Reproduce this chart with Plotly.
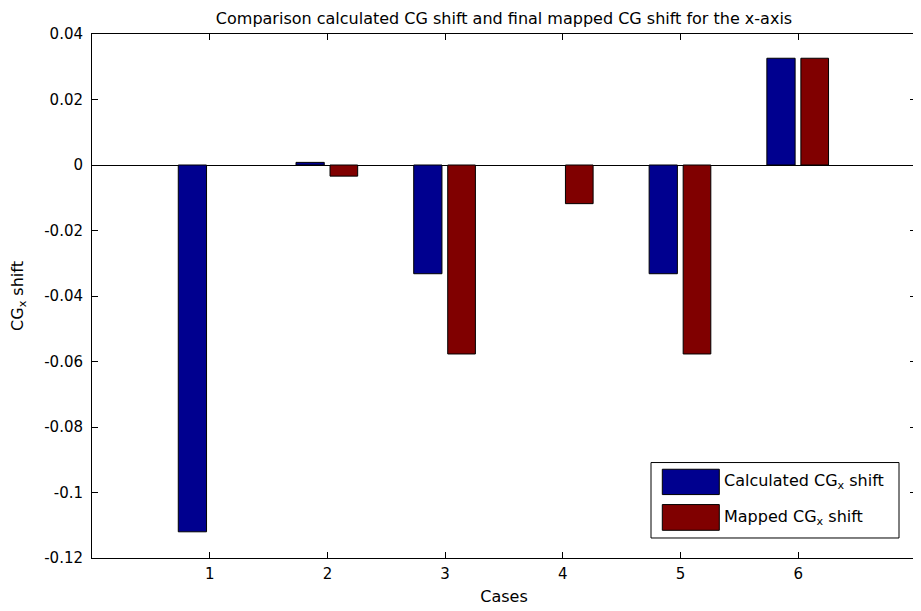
import plotly.graph_objects as go

cases = [1, 2, 3, 4, 5, 6]
calculated = [-0.112, 0.0008, -0.0332, None, -0.0332, 0.0326]
mapped = [None, -0.0034, -0.0577, -0.0118, -0.0577, 0.0326]
y_ticks = [-0.12, -0.10, -0.08, -0.06, -0.04, -0.02, 0, 0.02, 0.04]
y_labels = ["-0.12", "-0.1", "-0.08", "-0.06", "-0.04", "-0.02", "0", "0.02", "0.04"]
names = ["Calculated CG<sub>x</sub> shift", "Mapped CG<sub>x</sub> shift"]
colors = ["#00008F", "#800000"]

FONT = "DejaVu Sans, Liberation Sans, Arial, sans-serif"

# page body adds an 8px margin, so the figure is sized to fit the window
W, H = 913, 603
L, T, R, B = 84, 26, 5, 53

fig = go.Figure()
fig.add_trace(go.Bar(x=cases, y=calculated, name=names[0], width=0.24, offset=-0.267,
                     marker=dict(color=colors[0], line=dict(color="black", width=1)),
                     showlegend=False))
fig.add_trace(go.Bar(x=cases, y=mapped, name=names[1], width=0.235, offset=0.022,
                     marker=dict(color=colors[1], line=dict(color="black", width=1)),
                     showlegend=False))

# legend drawn as a box like the original (positions given in window pixels)
def px(x):
    return (x - 92) / 824
def py(y):
    return (557.7 - y) / 523.7

shapes = [
    dict(type="rect", xref="paper", yref="paper", x0=px(651), x1=px(899), y0=py(537.7), y1=py(462.3),
         line=dict(color="black", width=1), fillcolor="white"),
    dict(type="rect", xref="paper", yref="paper", x0=px(662.3), x1=px(719.3), y0=py(494.3), y1=py(469),
         line=dict(color="black", width=1), fillcolor=colors[0]),
    dict(type="rect", xref="paper", yref="paper", x0=px(662.3), x1=px(719.3), y0=py(530), y1=py(504.3),
         line=dict(color="black", width=1), fillcolor=colors[1]),
]
annotations = [
    dict(xref="paper", yref="paper", x=px(722), y=py(481.5), text=names[0], showarrow=False,
         xanchor="left", yanchor="middle", font=dict(family=FONT, size=16, color="black")),
    dict(xref="paper", yref="paper", x=px(722), y=py(517), text=names[1], showarrow=False,
         xanchor="left", yanchor="middle", font=dict(family=FONT, size=16, color="black")),
]

fig.update_layout(
    width=W, height=H,
    margin=dict(l=L, r=R, t=T, b=B),
    paper_bgcolor="white", plot_bgcolor="white",
    barmode="overlay",
    font=dict(family=FONT, size=15, color="black"),
    title=dict(text="Comparison calculated CG shift and final mapped CG shift for the x-axis",
               x=0.5, xref="paper", y=1 - 10.5 / H, yref="container", yanchor="middle",
               automargin=False, font=dict(size=16)),
    xaxis=dict(range=[0, 7], tickvals=cases, ticktext=[str(c) for c in cases],
               ticks="inside", ticklen=6, tickcolor="black", showline=True, linecolor="black",
               mirror="ticks", showgrid=False, zeroline=False, automargin=False,
               ticklabelstandoff=2,
               title=dict(text="Cases", standoff=8, font=dict(size=16))),
    yaxis=dict(range=[-0.12, 0.04], tickvals=y_ticks, ticktext=y_labels,
               ticks="inside", ticklen=6, tickcolor="black", showline=True, linecolor="black",
               mirror="ticks", showgrid=False, zeroline=True, zerolinecolor="black", zerolinewidth=1,
               automargin=False, ticklabelstandoff=5,
               title=dict(text="CG<sub>x</sub> shift", standoff=24, font=dict(size=16))),
    shapes=shapes, annotations=annotations,
)

fig.write_html("out.html")
